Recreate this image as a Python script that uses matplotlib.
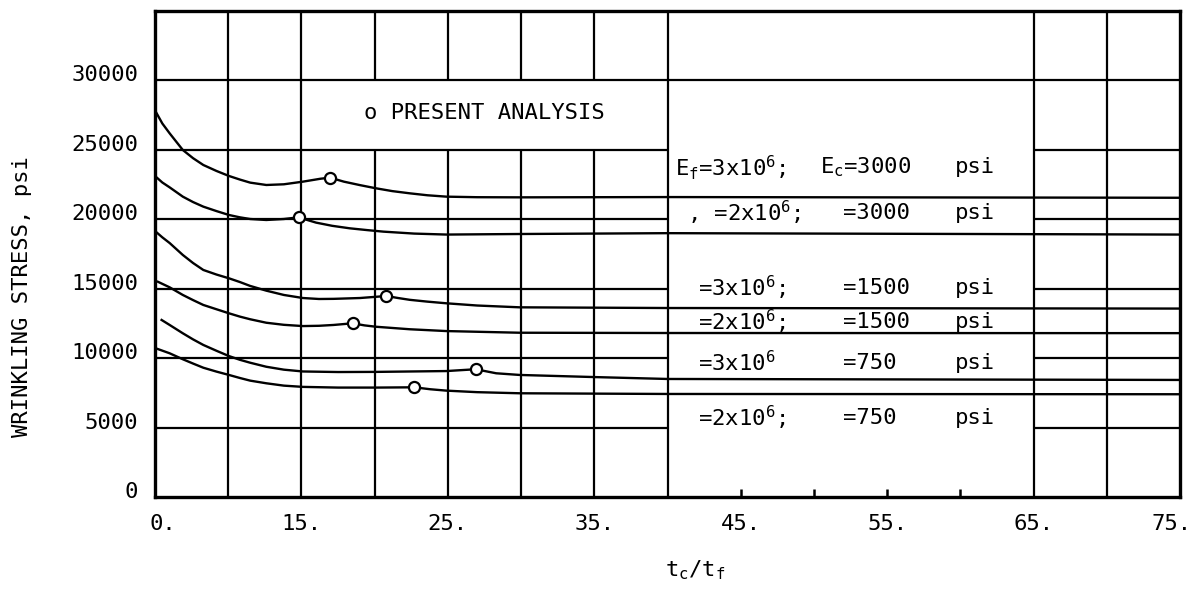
import numpy as np
import matplotlib.pyplot as plt
from matplotlib.transforms import ScaledTranslation

plt.rcParams['font.family'] = 'DejaVu Sans Mono'
plt.rcParams['mathtext.default'] = 'regular'

# wrinkling stress (psi) vs t_c/t_f
# mk = index of the "present analysis" point on each curve
x1 = [5.05, 5.5, 6.0, 6.9, 7.6, 8.3, 9.2, 10.05, 10.8, 11.5, 12.6, 13.8, 15.1, 16.3, 16.95, 17.9, 19.0, 20.1, 21.2,
      22.4, 23.6, 24.9, 27.0, 29.9, 40.0, 75.0]
y1 = [27750, 26900, 26190, 24990, 24400, 23910, 23480, 23120, 22860, 22640, 22470, 22520, 22710, 22920, 23000, 22710,
      22460, 22230, 22030, 21870, 21730, 21630, 21590, 21580, 21600, 21550]
mk1 = 14

x2 = [5.05, 5.5, 6.0, 6.9, 7.6, 8.3, 9.2, 10.05, 10.8, 11.5, 12.6, 13.8, 14.8, 16.0, 17.1, 18.3, 19.5, 20.6, 22.7,
      24.9, 29.9, 40.0, 75.0]
y2 = [23070, 22650, 22300, 21630, 21240, 20910, 20590, 20310, 20140, 20020, 19950, 20020, 20140, 19760, 19530, 19350,
      19220, 19110, 18970, 18900, 18940, 19000, 18900]
mk2 = 12

x3 = [5.05, 5.5, 6.0, 6.9, 7.6, 8.3, 9.2, 10.05, 10.8, 11.5, 12.6, 13.8, 15.1, 16.2, 17.2, 19.0, 20.8, 21.6, 22.4,
      23.6, 24.9, 27.0, 29.9, 40.0, 75.0]
y3 = [19110, 18700, 18290, 17430, 16850, 16350, 16020, 15750, 15480, 15200, 14860, 14550, 14330, 14260, 14270, 14330,
      14475, 14330, 14200, 14070, 13950, 13790, 13660, 13610, 13570]
mk3 = 16

x4 = [5.2, 5.6, 6.0, 6.9, 7.6, 8.3, 9.2, 10.05, 10.8, 11.5, 12.6, 13.8, 15.1, 16.2, 17.2, 18.5, 19.3, 20.1, 22.4,
      24.9, 29.9, 40.0, 75.0]
y4 = [15500, 15300, 15100, 14550, 14180, 13830, 13520, 13230, 12990, 12800, 12550, 12400, 12310, 12330, 12390, 12510,
      12360, 12260, 12080, 11950, 11830, 11810, 11800]
mk4 = 15

x5 = [5.45, 6.0, 6.9, 7.6, 8.3, 9.2, 10.05, 10.8, 11.5, 12.6, 13.8, 15.1, 17.5, 20.1, 22.5, 24.9, 26.9, 28.3, 29.9,
      34.9, 40.0, 75.0]
y5 = [12750, 12390, 11790, 11350, 10950, 10530, 10150, 9880, 9670, 9380, 9170, 9040, 9000, 9010, 9040, 9070, 9200,
      8910, 8790, 8640, 8500, 8430]
mk5 = 16

x6 = [5.05, 6.0, 6.9, 7.6, 8.3, 9.2, 10.05, 10.8, 11.5, 12.6, 13.8, 15.1, 17.5, 20.1, 22.7, 23.8, 24.9, 27.0, 29.9,
      40.0, 75.0]
y6 = [10710, 10350, 9920, 9610, 9310, 9030, 8790, 8570, 8380, 8190, 8020, 7930, 7880, 7880, 7900, 7760, 7660, 7550,
      7470, 7420, 7400]
mk6 = 14

curves = [(x1, y1, mk1), (x2, y2, mk2), (x3, y3, mk3),
          (x4, y4, mk4), (x5, y5, mk5), (x6, y6, mk6)]

# legend rows: face modulus, core modulus
ef_text = ['E$_f$=3x10$^6$;', ', =2x10$^6$;', '=3x10$^6$;', '=2x10$^6$;', '=3x10$^6$', '=2x10$^6$;']
ec_text = ['E$_c$=3000', '=3000', '=1500', '=1500', '=750', '=750']
row_y = [23750, 20450, 15050, 12600, 9650, 5690]

xtick_pos = [5, 15, 25, 35, 45, 55, 65, 75]
xtick_lab = ['0.', '15.', '25.', '35.', '45.', '55.', '65.', '75.']
ytick_pos = [0, 5000, 10000, 15000, 20000, 25000, 30000]

fig = plt.figure(figsize=(11.94, 5.9), dpi=100)
ax = fig.add_axes([155/1194, 1-497/590, 1025/1194, 486/590])
ax.set_xlim(5, 75)
ax.set_ylim(0, 35000)

gkw = dict(color='black', lw=1.6, zorder=1)
# grid: left block, blank middle, right block
ax.vlines([10, 15, 40, 65, 70], 0, 35000, **gkw)
ax.vlines([20, 25, 30, 35], 0, 25000, **gkw)
ax.vlines([20, 25, 30, 35], 30000, 35000, **gkw)
ax.hlines(30000, 5, 75, **gkw)
ax.hlines(ytick_pos[1:-1], 5, 40, **gkw)
ax.hlines(ytick_pos[1:-1], 65, 75, **gkw)
# short ticks along the empty middle block
ax.vlines([45, 50, 55, 60], 0, 8/486, transform=ax.get_xaxis_transform(), color='black', lw=1.8)

for xs, ys, m in curves:
    ax.plot(xs, ys, color='black', lw=1.7, zorder=2)
    ax.plot(xs[m], ys[m], 'o', ms=8, mfc='white', mec='black', mew=1.6, zorder=3)

ax.text(19.3, 27650, 'o PRESENT ANALYSIS', fontsize=16, va='center', ha='left')

for i in range(6):
    x0 = 40.5 if i == 0 else (41.3 if i == 1 else 42.1)
    ax.text(x0, row_y[i], ef_text[i], fontsize=16, va='center', ha='left')
    ax.text(50.4 if i == 0 else 52.0, row_y[i], ec_text[i], fontsize=16, va='center', ha='left')
    ax.text(59.65, row_y[i], 'psi', fontsize=16, va='center', ha='left')

for s in ax.spines.values():
    s.set_linewidth(2.4)

ax.set_xticks(xtick_pos)
ax.set_xticklabels(xtick_lab, fontsize=16)
ax.tick_params(axis='x', length=0, pad=12)
xlabs = ax.get_xticklabels()
xlabs[0].set_transform(xlabs[0].get_transform() + ScaledTranslation(8/100, 0, fig.dpi_scale_trans))
xlabs[-1].set_transform(xlabs[-1].get_transform() + ScaledTranslation(-8/100, 0, fig.dpi_scale_trans))
ax.set_yticks(ytick_pos)
ax.set_yticklabels([str(v) for v in ytick_pos], fontsize=16)
ax.tick_params(axis='y', length=0, pad=12)
for lab in ax.get_yticklabels():
    lab.set_transform(lab.get_transform() + ScaledTranslation(0, 7/100, fig.dpi_scale_trans))

ax.set_ylabel('WRINKLING STRESS, psi', fontsize=16)
ax.yaxis.set_label_coords(-0.12, 0.4115)
ax.text(0.527, -0.15, 't$_c$/t$_f$', transform=ax.transAxes, fontsize=16, ha='center', va='center')

fig.savefig('out.png', dpi=100)
